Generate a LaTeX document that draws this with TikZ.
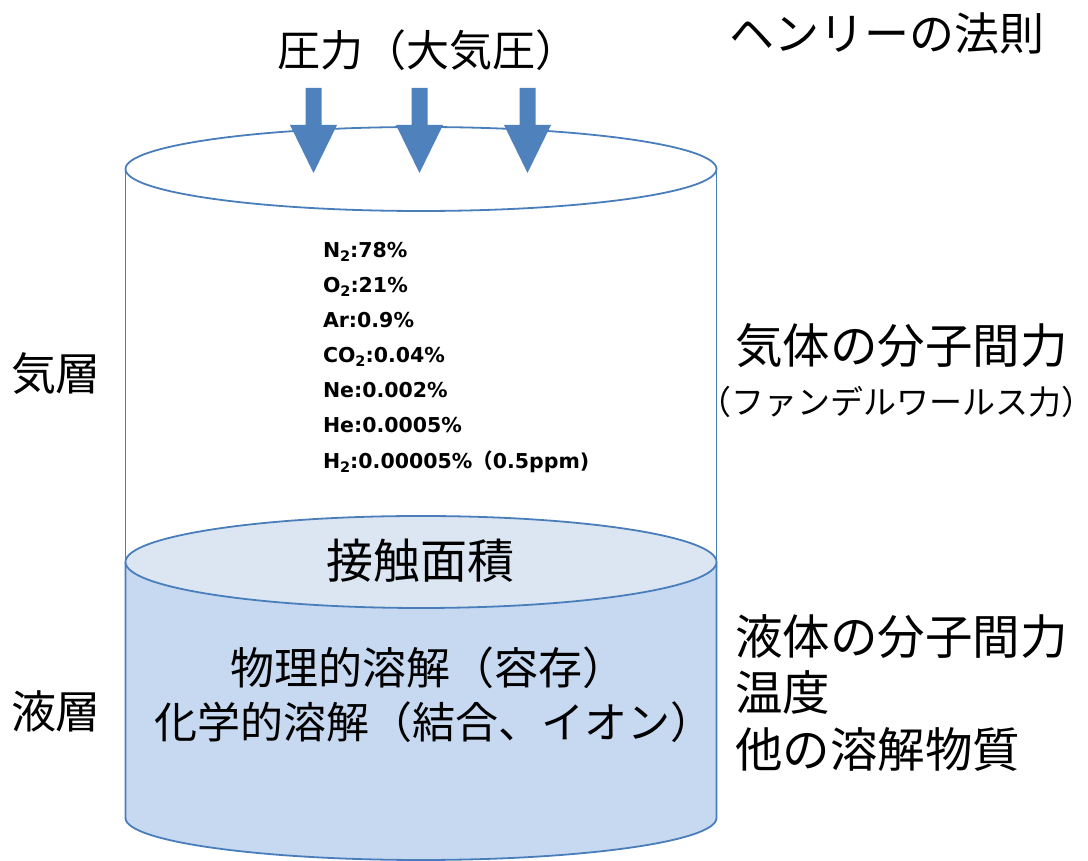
\documentclass[tikz,border=0pt]{standalone}
\usepackage{fontspec}
\setmainfont{Noto Sans CJK JP}
\newfontfamily\cjk{Noto Sans CJK JP}
\newfontfamily\gasfont{DejaVu Sans}
\definecolor{edge}{HTML}{4A7EBB}
\definecolor{arrowblue}{HTML}{4F81BD}
\definecolor{liquid}{HTML}{C6D9F1}
\definecolor{surface}{HTML}{DCE6F2}
\newcommand{\fs}[1]{\fontsize{#1}{#1}\selectfont}
\newcommand{\sub}[1]{\raisebox{-0.3ex}{\fontsize{14.5}{14.5}\selectfont #1}}
\tikzset{
  outline/.style={draw=edge, line width=1.8pt},
  downarrow/.style={fill=arrowblue, draw=none},
  label/.style={inner sep=0pt, outer sep=0pt, text=black},
  gasline/.style={label, anchor=base west, font=\gasfont\bfseries\fontsize{20.5}{20.5}\selectfont},
}
\begin{document}
\begin{tikzpicture}[x=1pt,y=1pt]
\useasboundingbox (0,0) rectangle (1088,861);
% liquid body
\fill[liquid] (125.5,299) -- (125.5,43) arc[start angle=180,end angle=360,x radius=295.5,y radius=42] -- (716.5,299) -- cycle;
\draw[outline] (125.5,299) -- (125.5,43) arc[start angle=180,end angle=360,x radius=295.5,y radius=42] -- (716.5,299);
% contact surface
\filldraw[outline, fill=surface] (421,299) ellipse[x radius=295.5, y radius=46];
% gas sides
\draw[outline] (125.5,299) -- (125.5,692);
\draw[outline] (716.5,299) -- (716.5,692);
% top ellipse
\draw[outline] (421,692) ellipse[x radius=295.5, y radius=42];
% arrows
\foreach \cx in {313.5,419.5,527.5}{
  \fill[downarrow] (\cx-8,773) -- (\cx+8,773) -- (\cx+8,736) -- (\cx+23.5,736) -- (\cx,688) -- (\cx-23.5,736) -- (\cx-8,736) -- cycle;
}
% texts
\node[label] (pressure) at (428,811) {\fs{43}圧力（大気圧）};
\node[label] (henry) at (887,828) {\fs{45}ヘンリーの法則};
\node[label, anchor=west] (gasforce) at (735,515) {\fs{47.5}気体の分子間力};
\node[label] (vdw) at (896,459) {\fs{33}\kern-15pt（ファンデルワールス力）\kern-15pt};
\node[label] (gaslayer) at (56,487) {\fs{45}気層};
\node[label] (liqlayer) at (56,150) {\fs{45}液層};
\node[label] (contact) at (420,300) {\fs{47}接触面積};
\node[label] (phys) at (428.5,193) {\fs{44}物理的溶解（容存）};
\node[label] (chem) at (434,139) {\fs{43}化学的溶解（結合、イオン）};
\node[label, anchor=west] (liqforce) at (735,224) {\fs{47.5}液体の分子間力};
\node[label, anchor=west] (temp) at (735,168) {\fs{47.5}温度};
\node[label, anchor=west] (other) at (735,111) {\fs{47.5}他の溶解物質};
% gas composition
\node[gasline] (n2) at (323,603) {N\sub{2}:78\%};
\node[gasline] (o2) at (323,568) {O\sub{2}:21\%};
\node[gasline] (ar) at (323,533) {Ar:0.9\%};
\node[gasline] (co2) at (323,498) {CO\sub{2}:0.04\%};
\node[gasline] (ne) at (323,463) {Ne:0.002\%};
\node[gasline] (he) at (323,428) {He:0.0005\%};
\node[gasline] (h2) at (323,392) {H\sub{2}:0.00005\%{\cjk\fontsize{20.5}{20.5}\selectfont （}0.5ppm)};
\end{tikzpicture}
\end{document}
